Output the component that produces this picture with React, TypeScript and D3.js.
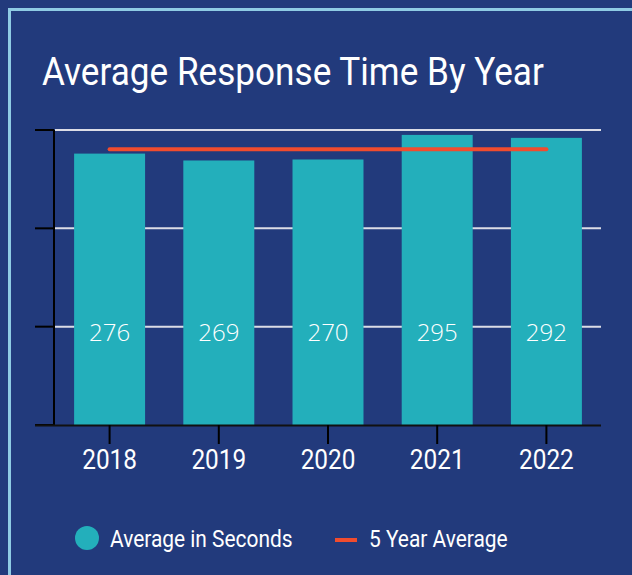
import React from "react";
import * as d3 from "d3";

const years = ["2018", "2019", "2020", "2021", "2022"];
const avgSeconds = [276, 269, 270, 295, 292];
const fiveYearAverage = [280.4, 280.4, 280.4, 280.4, 280.4];
const yTicks = [0, 100, 200, 300];
const titleText = "Average Response Time By Year";
const legendLabels = ["Average in Seconds", "5 Year Average"];

const W = 632;
const H = 575;
const BG = "#223a7c";
const TEAL = "#23afbb";
const RED = "#f14c2e";
const BORDER = "#8fcbe4";
const FONT = "Roboto, 'Noto Sans', sans-serif";
const NUMFONT = "'Open Sans', Lato, sans-serif";

export default function App() {
  const margin = { left: 55, right: 31, top: 130, bottom: 150 };
  const x = d3
    .scaleBand<string>()
    .domain(years)
    .range([margin.left, W - margin.right])
    .paddingInner(0.35)
    .paddingOuter(0.175);
  const y = d3.scaleLinear().domain([0, 300]).range([H - margin.bottom, margin.top]);
  const bw = x.bandwidth();
  const cx = (d: string) => (x(d) as number) + bw / 2;
  const line = d3
    .line<number>()
    .x((_, i) => cx(years[i]))
    .y((v) => y(v));

  const condText = (
    tx: number,
    ty: number,
    txt: string,
    size: number,
    anchor: string,
    sx: number,
    key?: string
  ) => (
    <g key={key} transform={`translate(${tx},${ty}) scale(${sx},1)`}>
      <text x={0} y={0} fill="#ffffff" fontFamily={FONT} fontSize={size} textAnchor={anchor}>
        {txt}
      </text>
    </g>
  );

  return (
    <svg
      width={W}
      height={H}
      style={{ position: "absolute", left: 0, top: 0, display: "block", background: BG }}
    >
      <rect x={0} y={0} width={W} height={H} fill={BG} />
      <rect x={9.5} y={9.5} width={W + 20} height={H + 20} fill="none" stroke={BORDER} strokeWidth={3} />
      {condText(42, 85, titleText, 38, "start", 0.925)}

      {/* gridlines */}
      {yTicks.filter((t) => t > 0).map((t) => (
        <line key={t} x1={margin.left} x2={W - margin.right} y1={y(t)} y2={y(t)} stroke="#dcdde6" strokeWidth={2} />
      ))}

      {/* bars */}
      {years.map((yr, i) => (
        <rect key={yr} x={x(yr)} y={y(avgSeconds[i])} width={bw} height={y(0) - y(avgSeconds[i])} fill={TEAL} />
      ))}

      {/* bar labels */}
      {years.map((yr, i) => (
        <text
          key={"l" + yr}
          x={cx(yr)}
          y={y(85)}
          fill="#ffffff"
          fontFamily={NUMFONT}
          fontSize={24}
          fontWeight={300}
          textAnchor="middle"
        >
          {avgSeconds[i]}
        </text>
      ))}

      {/* average line */}
      <path d={line(fiveYearAverage) || ""} fill="none" stroke={RED} strokeWidth={4} strokeLinecap="round" />

      {/* y axis */}
      <line x1={54} x2={54} y1={y(300)} y2={y(0)} stroke="#000" strokeWidth={2} />
      {yTicks.map((t) => (
        <line key={"yt" + t} x1={35} x2={54} y1={y(t)} y2={y(t)} stroke="#000" strokeWidth={2} />
      ))}
      {/* x axis baseline */}
      <line x1={35} x2={W - margin.right} y1={y(0) + 0.5} y2={y(0) + 0.5} stroke="#111" strokeWidth={2} />
      {years.map((yr) => (
        <line key={"xt" + yr} x1={cx(yr)} x2={cx(yr)} y1={y(0)} y2={y(0) + 19} stroke="#000" strokeWidth={2} />
      ))}
      {years.map((yr) => condText(cx(yr), 469, yr, 28, "middle", 0.87, "xl" + yr))}

      {/* legend */}
      <circle cx={87} cy={538} r={12} fill={TEAL} />
      {condText(110, 547, legendLabels[0], 23, "start", 0.91)}
      <line x1={335} x2={357} y1={540} y2={540} stroke={RED} strokeWidth={4} />
      {condText(369, 547, legendLabels[1], 23, "start", 0.91)}
    </svg>
  );
}
